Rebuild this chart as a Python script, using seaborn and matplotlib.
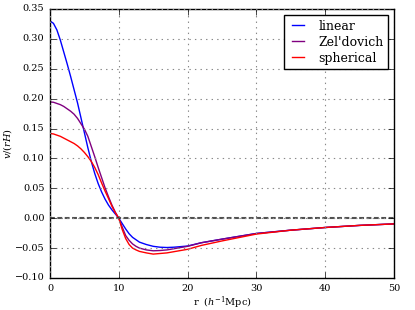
import matplotlib
matplotlib.use("Agg")
import matplotlib.pyplot as plt
import seaborn as sns

r = [0, 0.5, 1, 1.5, 2, 2.5, 3, 3.5, 4, 4.5, 5, 5.5, 6, 6.5, 7, 7.5, 8, 8.5, 9, 9.5,
     10, 10.5, 11, 11.5, 12, 12.5, 13, 14, 15, 16, 17, 18, 19, 20,
     22, 25, 30, 35, 40, 45, 50]
v_linear = [0.330, 0.326, 0.315, 0.298, 0.278, 0.258, 0.237, 0.215, 0.193, 0.168,
            0.143, 0.118, 0.095, 0.075, 0.058, 0.044, 0.032, 0.022, 0.014, 0.007,
            0.0, -0.009, -0.018, -0.026, -0.032, -0.036, -0.040, -0.044, -0.047, -0.0485,
            -0.049, -0.0485, -0.0475, -0.0465,
            -0.041, -0.035, -0.0255, -0.020, -0.0155, -0.012, -0.0095]
v_zeldovich = [0.1945, 0.194, 0.192, 0.190, 0.187, 0.183, 0.179, 0.174, 0.167, 0.158,
               0.149, 0.137, 0.120, 0.103, 0.085, 0.068, 0.051, 0.036, 0.022, 0.010,
               0.0, -0.015, -0.029, -0.037, -0.043, -0.047, -0.050, -0.053, -0.0545, -0.054,
               -0.053, -0.051, -0.049, -0.047,
               -0.041, -0.035, -0.0255, -0.020, -0.0155, -0.012, -0.0095]
v_spherical = [0.1417, 0.141, 0.139, 0.137, 0.134, 0.131, 0.128, 0.125, 0.121, 0.116,
               0.110, 0.103, 0.095, 0.085, 0.073, 0.059, 0.0455, 0.033, 0.020, 0.009,
               0.0, -0.019, -0.034, -0.044, -0.050, -0.053, -0.0555, -0.058, -0.060, -0.059,
               -0.058, -0.056, -0.054, -0.052,
               -0.0455, -0.038, -0.0265, -0.020, -0.0155, -0.012, -0.0095]
labels = ["linear", "Zel'dovich", "spherical"]
colors = ["#0000ff", "#800080", "#ff0000"]
x_ticks = [0, 10, 20, 30, 40, 50]
y_ticks = [-0.10, -0.05, 0.00, 0.05, 0.10, 0.15, 0.20, 0.25, 0.30, 0.35]

plt.style.use("classic")
plt.rcParams["font.family"] = ["DejaVu Serif"]
plt.rcParams["mathtext.fontset"] = "dejavuserif"

fig = plt.figure(figsize=(4.15, 3.10), dpi=100)
fig.patch.set_facecolor("white")
ax = fig.add_axes([50/415, 1-278/310, (394-50)/415, (278-9)/310])

for vals, lab, col in zip([v_linear, v_zeldovich, v_spherical], labels, colors):
    sns.lineplot(x=r, y=vals, color=col, label=lab, ax=ax, linewidth=1.0)

ax.axhline(0, color="#333333", linestyle=(0, (3.5, 1.8)), linewidth=1.5, alpha=0.85)
ax.set_xlim(0, 50)
ax.set_ylim(-0.10, 0.35)
ax.set_xticks(x_ticks)
ax.set_yticks(y_ticks)
ax.set_yticklabels([f"{t:.2f}".replace("-", "\u2212") for t in y_ticks])
ax.tick_params(labelsize=7)
ax.grid(True, linestyle=":", color="#888888", linewidth=0.8)
ax.set_xlabel(r"r  ($h^{-1}$Mpc)", fontsize=7, labelpad=1)
ax.set_ylabel(r"$v/(rH)$", fontsize=7)
ax.yaxis.set_label_coords(-0.105, 0.5)
leg = ax.legend(loc="upper right", fontsize=9, fancybox=False, framealpha=1,
                borderpad=0.35, handlelength=1.6, handletextpad=0.8,
                labelspacing=0.25, borderaxespad=0.5)
leg.get_frame().set_edgecolor("black")
fig.savefig("out.png", dpi=100, facecolor="white")
